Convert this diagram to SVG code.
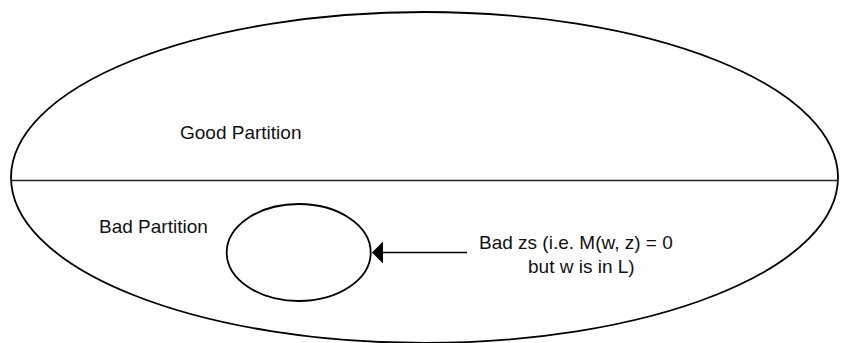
<svg xmlns="http://www.w3.org/2000/svg" width="843" height="343" viewBox="0 0 843 343">
<style>
.shape{fill:none;stroke:#000;stroke-width:1.8}
.lbl{font-family:"Liberation Sans",Arial,sans-serif;font-size:19px;fill:#111}
.conn{stroke:#000;stroke-width:1.6;fill:none}
</style>
<defs>
<marker id="arr" markerWidth="12" markerHeight="22" refX="0" refY="11" orient="auto" markerUnits="userSpaceOnUse" viewBox="0 0 12 22">
<path d="M12,0 L0,11 L12,22 Z" fill="#000"/>
</marker>
</defs>
<rect width="843" height="343" fill="#fff"/>
<g id="universe">
<ellipse class="shape" cx="424.5" cy="177.5" rx="413.5" ry="165.5"/>
<line x1="11" y1="180.5" x2="838" y2="180.5" stroke="#222" stroke-width="1.3"/>
</g>
<g id="good-partition">
<text class="lbl" x="180" y="139">Good Partition</text>
</g>
<g id="bad-partition">
<text class="lbl" x="99" y="233">Bad Partition</text>
</g>
<g id="bad-zs">
<ellipse class="shape" cx="298.7" cy="252.5" rx="72" ry="48.5"/>
</g>
<g id="bad-zs-label">
<text class="lbl" x="479" y="249">Bad zs (i.e. M(w, z) = 0</text>
<text class="lbl" x="528" y="273">but w is in L)</text>
</g>
<g id="connectors">
<line class="conn" x1="467" y1="252.5" x2="383" y2="252.5"/>
<path d="M372,252.5 L383,241.5 L383,263.5 Z" fill="#000"/>
</g>
</svg>
